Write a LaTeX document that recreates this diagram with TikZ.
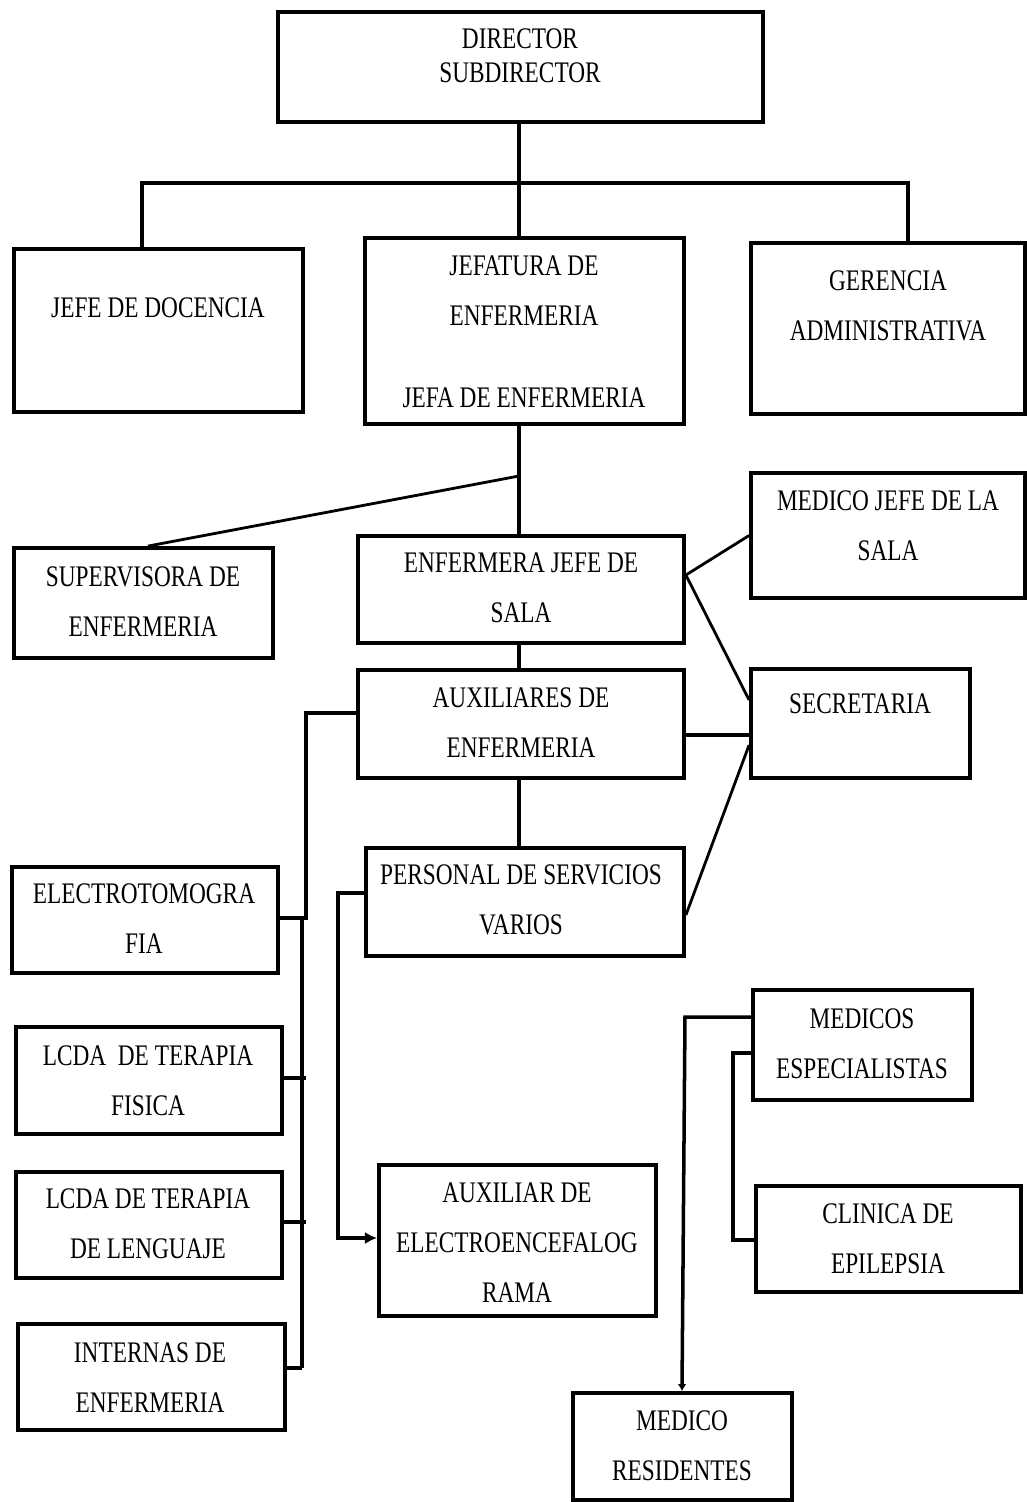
\documentclass[tikz,border=0pt]{standalone}
\usepackage{fontspec}
\setmainfont{Liberation Serif}[FakeStretch=0.78]
\usetikzlibrary{arrows.meta}

\begin{document}
\begin{tikzpicture}
[x=0.02cm, y=-0.02cm,
orgbox/.style={rectangle, draw, line width=2.2pt, inner sep=0pt},
orgtext/.style={anchor=north, align=center, inner sep=0pt, font=\fontsize{17}{28.45}\selectfont},
conn/.style={line width=2pt},
slantconn/.style={line width=1.6pt},
]
\useasboundingbox (0,0) rectangle (1027,1502);
%boxes
\node[orgbox, minimum width=9.70cm, minimum height=2.20cm](dir) at (520.5, 67){};
\node[orgbox, minimum width=5.78cm, minimum height=3.26cm](doc) at (158.5, 330.5){};
\node[orgbox, minimum width=6.38cm, minimum height=3.72cm](jef) at (524.5, 331){};
\node[orgbox, minimum width=5.48cm, minimum height=3.42cm](ger) at (888, 328.5){};
\node[orgbox, minimum width=5.18cm, minimum height=2.20cm](sup) at (143.5, 603){};
\node[orgbox, minimum width=6.52cm, minimum height=2.14cm](ejs) at (521, 589.5){};
\node[orgbox, minimum width=5.48cm, minimum height=2.50cm](mjs) at (888, 535.5){};
\node[orgbox, minimum width=4.38cm, minimum height=2.18cm](sec) at (860.5, 723.5){};
\node[orgbox, minimum width=6.52cm, minimum height=2.16cm](aux) at (521, 724){};
\node[orgbox, minimum width=6.36cm, minimum height=2.16cm](per) at (525, 902){};
\node[orgbox, minimum width=5.32cm, minimum height=2.12cm](ele) at (145, 920){};
\node[orgbox, minimum width=5.32cm, minimum height=2.14cm](fis) at (149, 1080.5){};
\node[orgbox, minimum width=5.32cm, minimum height=2.12cm](len) at (149, 1225){};
\node[orgbox, minimum width=5.34cm, minimum height=2.12cm](int) at (151.5, 1377){};
\node[orgbox, minimum width=5.54cm, minimum height=3.02cm](aee) at (517.5, 1240.5){};
\node[orgbox, minimum width=4.38cm, minimum height=2.20cm](med) at (862.5, 1045){};
\node[orgbox, minimum width=5.30cm, minimum height=2.12cm](cli) at (888.5, 1239){};
\node[orgbox, minimum width=4.38cm, minimum height=2.14cm](res) at (682.5, 1446.5){};
%texts
\node[orgtext, font=\fontsize{17}{19.35}\selectfont](dir-t) at (520, 28){DIRECTOR\\SUBDIRECTOR};
\node[orgtext](doc-t) at (158, 297){JEFE DE DOCENCIA};
\node[orgtext](jef-t) at (524, 255){JEFATURA DE\\ENFERMERIA\\[0.64cm]JEFA DE ENFERMERIA};
\node[orgtext](ger-t) at (888, 270){GERENCIA\\ADMINISTRATIVA};
\node[orgtext](mjs-t) at (888, 490){MEDICO JEFE DE LA\\SALA};
\node[orgtext](sup-t) at (143, 566){SUPERVISORA DE\\ENFERMERIA};
\node[orgtext](ejs-t) at (521, 552){ENFERMERA JEFE DE\\SALA};
\node[orgtext](sec-t) at (860, 693){SECRETARIA};
\node[orgtext](aux-t) at (521, 687){AUXILIARES DE\\ENFERMERIA};
\node[orgtext](per-t) at (521, 864){PERSONAL DE SERVICIOS\\VARIOS};
\node[orgtext](ele-t) at (144, 883){ELECTROTOMOGRA\\FIA};
\node[orgtext](fis-t) at (148, 1045){LCDA~~DE TERAPIA\\FISICA};
\node[orgtext](len-t) at (148, 1188){LCDA DE TERAPIA\\DE LENGUAJE};
\node[orgtext](int-t) at (150, 1342){INTERNAS DE\\ENFERMERIA};
\node[orgtext](aee-t) at (517, 1182){AUXILIAR DE\\ELECTROENCEFALOG\\RAMA};
\node[orgtext](med-t) at (862, 1008){MEDICOS\\ESPECIALISTAS};
\node[orgtext](cli-t) at (888, 1203){CLINICA DE\\EPILEPSIA};
\node[orgtext](res-t) at (682, 1410){MEDICO\\RESIDENTES};
%draw lines
\coordinate (split) at (519, 476);
\draw[conn] (519,0 |- dir.south) -- (519,0 |- jef.north);
\draw[conn] (142,0 |- doc.north) -- (142,183) -- (908,183) -- (908,0 |- ger.north);
\draw[conn] (519,0 |- jef.south) -- (519,0 |- ejs.north);
\draw[slantconn] (split) -- (148,0 |- sup.north);
\draw[slantconn] (ejs.east |- 0,575) -- (mjs.west);
\draw[slantconn] (ejs.east |- 0,575) -- (sec.west |- 0,700);
\draw[conn] (519,0 |- ejs.south) -- (519,0 |- aux.north);
\draw[conn] (aux.east |- 0,735) -- (sec.west |- 0,735);
\draw[slantconn] (sec.west |- 0,745) -- (per.east |- 0,915);
\draw[conn] (aux.west |- 0,713) -- (306,713) -- (306,918) -- (ele.east |- 0,918);
\draw[conn] (302,918) -- (302,1368);
\draw[conn] (fis.east |- 0,1078) -- (306,1078);
\draw[conn] (len.east |- 0,1222) -- (306,1222);
\draw[conn] (int.east |- 0,1368) -- (302,1368);
\draw[conn] (519,0 |- aux.south) -- (519,0 |- per.north);
\draw[conn, -{Latex[length=7pt, width=7pt]}] (per.west |- 0,893) -- (338,893) -- (338,1238) -- (aee.west |- 0,1238);
\draw[conn, -{Latex[length=4pt, width=5pt]}] (med.west |- 0,1017) -- (685,1017) -- (682,0 |- res.north);
\draw[conn] (med.west |- 0,1053) -- (733,1053) -- (733,1240) -- (cli.west |- 0,1240);
\end{tikzpicture}
\end{document}
